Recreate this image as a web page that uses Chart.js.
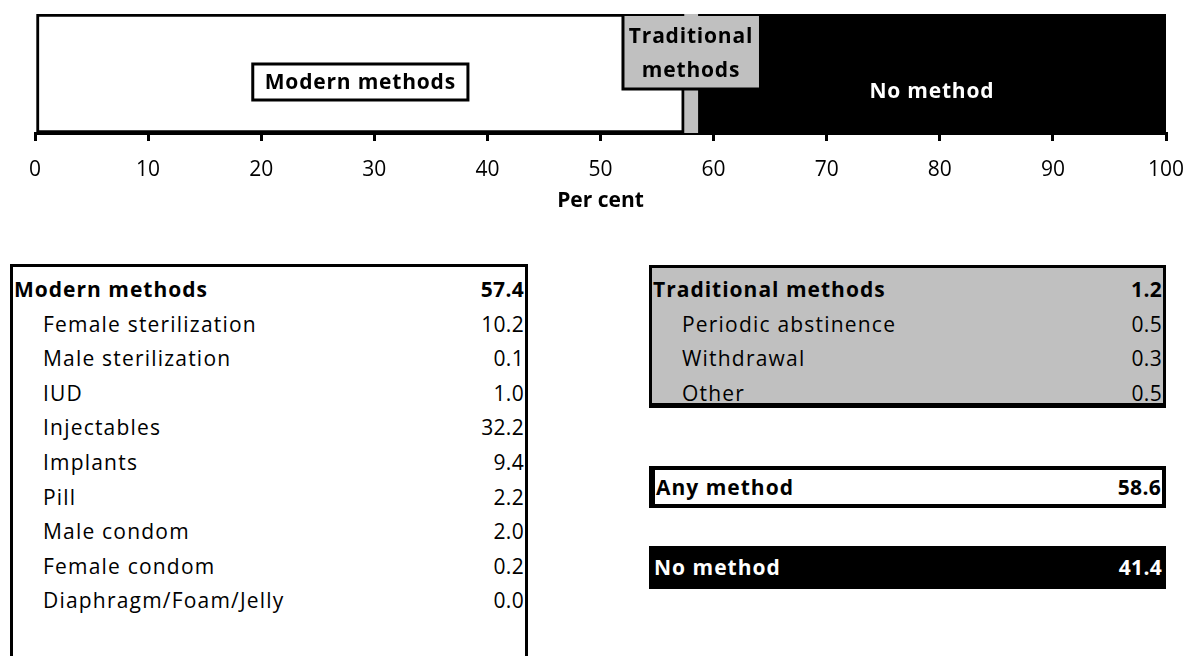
<!DOCTYPE html>
<html>
<head>
<meta charset="utf-8">
<script src="https://cdn.jsdelivr.net/npm/chart.js@4.4.1/dist/chart.umd.min.js"></script>
<style>
  body { margin: 0; background: #fff; font-family: "Open Sans", sans-serif; }
  #wrap { position: relative; width: 1189px; height: 656px; overflow: hidden; }
  #chartBox { position: absolute; left: 0; top: 0; width: 1189px; height: 240px; }
  .tbl { position: absolute; box-sizing: border-box; font-size: 21px; letter-spacing: 1.2px; }
  .row { display: flex; justify-content: space-between; height: 34.6px; line-height: 34.6px; }
  .row span:last-child { letter-spacing: 0.3px; }
  .row.sub span:first-child { padding-left: 29px; }
  .row.head { font-weight: bold; letter-spacing: 1px; }
</style>
</head>
<body>
<div id="wrap">
  <div id="chartBox"><canvas id="myChart"></canvas></div>
  <div id="modernTbl" class="tbl"></div>
  <div id="tradTbl" class="tbl"></div>
  <div id="anyTbl" class="tbl"></div>
  <div id="noTbl" class="tbl"></div>
</div>
<script>
// bar data
var barCategories = ['Modern methods', 'Traditional methods', 'No method'];
var barValues = [57.4, 1.2, 41.4];
var barColors = ['#ffffff', '#c0c0c0', '#000000'];

// table data
var modernLabels = ['Female sterilization', 'Male sterilization', 'IUD', 'Injectables', 'Implants',
    'Pill', 'Male condom', 'Female condom', 'Diaphragm/Foam/Jelly'];
var modernValues = [10.2, 0.1, 1.0, 32.2, 9.4, 2.2, 2.0, 0.2, 0.0];
var modernTotal = 57.4;
var traditionalLabels = ['Periodic abstinence', 'Withdrawal', 'Other'];
var traditionalValues = [0.5, 0.3, 0.5];
var traditionalTotal = 1.2;
var anyMethod = 58.6;
var noMethod = 41.4;

function rowHtml(label, value, cls) {
    return '<div class="row ' + cls + '"><span>' + label + '</span><span>' + value.toFixed(1) + '</span></div>';
}

function fillTable(id, title, total, labels, values, css) {
    var el = document.getElementById(id);
    var html = rowHtml(title, total, 'head');
    for (var i = 0; i < labels.length; i++) {
        html += rowHtml(labels[i], values[i], 'sub');
    }
    el.innerHTML = html;
    Object.assign(el.style, css);
}

fillTable('modernTbl', 'Modern methods', modernTotal, modernLabels, modernValues, {
    left: '10px', top: '264px', width: '518px', height: '420px',
    border: '3px solid #000', borderBottom: 'none', padding: '5px 1px 0 1px'
});
fillTable('tradTbl', 'Traditional methods', traditionalTotal, traditionalLabels, traditionalValues, {
    left: '649px', top: '265px', width: '517px', height: '143px',
    border: '3px solid #000', borderBottom: '5px solid #000', background: '#c0c0c0', padding: '4px 1px 0 1px'
});
fillTable('anyTbl', 'Any method', anyMethod, [], [], {
    left: '649px', top: '466px', width: '517px', height: '42px',
    border: '4px solid #000', borderLeft: '6px solid #000', padding: '0 1px', background: '#fff', display: 'flex', alignItems: 'center'
});
fillTable('noTbl', 'No method', noMethod, [], [], {
    left: '649px', top: '546px', width: '517px', height: '43px',
    background: '#000', color: '#fff', padding: '0 4px 0 5px', display: 'flex', alignItems: 'center'
});
document.querySelectorAll('#anyTbl .row, #noTbl .row').forEach(function (r) { r.style.width = '100%'; });

// labels drawn on the bar segments
var segmentLabels = {
    id: 'segmentLabels',
    afterDatasetsDraw: function (chart) {
        var ctx = chart.ctx;
        var area = chart.chartArea;
        ctx.save();
        ctx.font = 'bold 21px "Open Sans"';
        ctx.letterSpacing = '0.8px';
        ctx.textAlign = 'center';
        ctx.textBaseline = 'middle';

        // Modern methods
        var b0 = chart.getDatasetMeta(0).data[0];
        var cx0 = (b0.base + b0.x) / 2;
        var w0 = ctx.measureText(barCategories[0]).width + 24;
        var cy0 = area.top + 68;
        ctx.fillStyle = '#fff';
        ctx.fillRect(cx0 - w0 / 2, cy0 - 18, w0, 36);
        ctx.lineWidth = 3;
        ctx.strokeStyle = '#000';
        ctx.strokeRect(cx0 - w0 / 2, cy0 - 18, w0, 36);
        ctx.fillStyle = '#000';
        ctx.fillText(barCategories[0], cx0, cy0 + 1);

        // Traditional methods
        var b1 = chart.getDatasetMeta(1).data[0];
        var cx1 = (b1.base + b1.x) / 2;
        var bw = 136, bh = 75;
        ctx.fillStyle = '#c0c0c0';
        ctx.fillRect(cx1 - bw / 2, area.top + 2, bw, bh - 2);
        ctx.lineWidth = 3;
        ctx.strokeStyle = '#000';
        ctx.beginPath();
        ctx.moveTo(cx1 - bw / 2, area.top + 2);
        ctx.lineTo(cx1 - bw / 2, area.top + bh);
        ctx.lineTo(cx1 + bw / 2, area.top + bh);
        ctx.stroke();
        ctx.fillStyle = '#000';
        ctx.fillText('Traditional', cx1, area.top + 23);
        ctx.fillText('methods', cx1, area.top + 57);

        // No method
        var b2 = chart.getDatasetMeta(2).data[0];
        var cx2 = (b2.base + b2.x) / 2;
        ctx.fillStyle = '#fff';
        ctx.fillText(barCategories[2], cx2, area.top + 78);
        ctx.restore();
    }
};

var ctx = document.getElementById('myChart').getContext('2d');
new Chart(ctx, {
    type: 'bar',
    data: {
        labels: [''],
        datasets: barCategories.map(function (name, i) {
            return {
                label: name,
                data: [barValues[i]],
                backgroundColor: barColors[i],
                borderColor: '#000',
                borderWidth: i === 0 ? 3 : 0,
                borderSkipped: false,
                barPercentage: 1,
                categoryPercentage: 1
            };
        })
    },
    options: {
        indexAxis: 'y',
        responsive: true,
        maintainAspectRatio: false,
        animation: false,
        layout: { padding: { left: 35, right: 23, top: 14, bottom: 0 } },
        scales: {
            x: {
                stacked: true,
                min: 0,
                max: 100,
                ticks: { stepSize: 10, color: '#000', font: { family: 'Open Sans', size: 21 }, padding: 16, maxRotation: 0 },
                grid: { drawOnChartArea: false, drawTicks: true, tickLength: 8, color: '#000', lineWidth: 3 },
                border: { display: true, color: '#000', width: 3 },
                title: { display: true, text: 'Per cent', color: '#000', font: { family: 'Open Sans', size: 21, weight: 'bold' }, padding: { top: 0, bottom: 26 } },
                afterFit: function (scale) {
                    scale.height = 107;
                    scale.paddingLeft = 0;
                    scale.paddingRight = 0;
                }
            },
            y: { stacked: true, display: false }
        },
        plugins: {
            legend: false,
            tooltip: { enabled: false }
        }
    },
    plugins: [segmentLabels]
});
</script>
</body>
</html>
